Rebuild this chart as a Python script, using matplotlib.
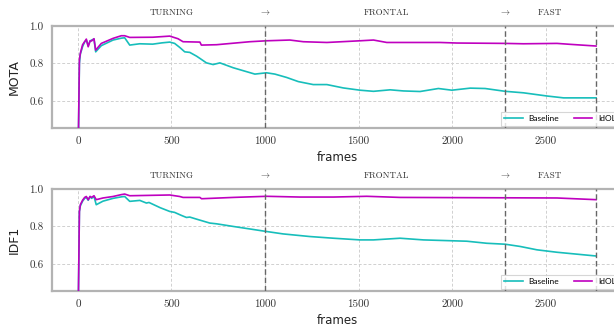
import matplotlib
matplotlib.use("Agg")
import matplotlib.pyplot as plt
import matplotlib.transforms as mtransforms

plt.rcParams['mathtext.fontset'] = 'cm'

# ---------------- data ----------------
mota_base_f = [0, 8, 13, 25, 36, 45, 55, 65, 73, 86, 95, 125, 188, 232, 250, 277, 330, 400, 450, 491, 517,
               545, 571, 598, 634, 652, 687, 723, 759, 830, 946, 1008, 1053, 1116, 1178, 1258, 1331, 1419,
               1508, 1580, 1669, 1740, 1829, 1927, 1999, 2097, 2177, 2284, 2382, 2507, 2596, 2770]
mota_base_v = [0.20, 0.80, 0.85, 0.89, 0.915, 0.925, 0.895, 0.92, 0.925, 0.93, 0.862, 0.895, 0.925, 0.935,
               0.937, 0.898, 0.905, 0.903, 0.91, 0.914, 0.907, 0.885, 0.862, 0.859, 0.839, 0.827, 0.803,
               0.794, 0.803, 0.777, 0.743, 0.75, 0.743, 0.725, 0.703, 0.687, 0.687, 0.669, 0.657, 0.651,
               0.659, 0.653, 0.65, 0.666, 0.657, 0.668, 0.666, 0.651, 0.643, 0.626, 0.616, 0.616]

mota_idol_f = [0, 8, 13, 25, 36, 45, 55, 65, 73, 86, 95, 125, 188, 232, 250, 277, 400, 491, 535, 562, 652,
               660, 741, 919, 1008, 1133, 1205, 1331, 1508, 1580, 1651, 1776, 1936, 2026, 2284, 2382,
               2561, 2632, 2770]
mota_idol_v = [0.20, 0.82, 0.854, 0.90, 0.916, 0.93, 0.889, 0.92, 0.92, 0.932, 0.871, 0.907, 0.934, 0.948,
               0.948, 0.939, 0.94, 0.946, 0.932, 0.916, 0.914, 0.898, 0.90, 0.916, 0.921, 0.925, 0.916,
               0.912, 0.921, 0.925, 0.912, 0.912, 0.912, 0.909, 0.907, 0.905, 0.907, 0.902, 0.893]

idf1_base_f = [0, 8, 13, 25, 36, 45, 55, 65, 73, 86, 98, 134, 188, 232, 250, 277, 331, 366, 380, 440, 491,
               517, 553, 580, 598, 634, 705, 741, 830, 1008, 1097, 1240, 1366, 1508, 1580, 1722, 1847,
               2079, 2186, 2284, 2364, 2454, 2561, 2770]
idf1_base_v = [0.20, 0.88, 0.91, 0.935, 0.95, 0.955, 0.94, 0.96, 0.95, 0.96, 0.916, 0.935, 0.95, 0.958,
               0.96, 0.934, 0.939, 0.925, 0.928, 0.90, 0.88, 0.875, 0.859, 0.848, 0.85, 0.839, 0.818,
               0.814, 0.80, 0.773, 0.76, 0.746, 0.737, 0.728, 0.728, 0.737, 0.728, 0.721, 0.71, 0.705,
               0.693, 0.675, 0.662, 0.642]

idf1_idol_f = [0, 8, 13, 25, 36, 45, 55, 65, 73, 86, 98, 134, 188, 232, 250, 277, 491, 544, 562, 652,
               661, 830, 1008, 1187, 1366, 1544, 1722, 2284, 2561, 2770]
idf1_idol_v = [0.20, 0.88, 0.916, 0.94, 0.955, 0.96, 0.943, 0.96, 0.955, 0.964, 0.943, 0.952, 0.96, 0.97,
               0.973, 0.964, 0.968, 0.96, 0.955, 0.955, 0.948, 0.955, 0.961, 0.957, 0.957, 0.961, 0.955,
               0.953, 0.952, 0.943]

phase_labels = ["TURNING", r"$\rightarrow$", "FRONTAL", r"$\rightarrow$", "FAST"]
phase_pos = [500, 1000, 1648, 2284, 2525]
boundaries = [1000, 2284, 2770]

x_ticks = [0, 500, 1000, 1500, 2000, 2500]
y_ticks = [0.6, 0.8, 1.0]
y_ticklabels = ["0.6", "0.8", "1.0"]

panels = [
    ("MOTA", mota_base_f, mota_base_v, mota_idol_f, mota_idol_v),
    ("IDF1", idf1_base_f, idf1_base_v, idf1_idol_f, idf1_idol_v),
]

# ---------------- figure ----------------
W, H = 614, 329
fig = plt.figure(figsize=(W / 100, H / 100), dpi=100)

ax_left = 52 / W
ax_w = (622 - 52) / W
ax_h = 102 / H
tops = [26, 189]

serif = ['cmr10', 'DejaVu Serif']
spine_col = '#b3b3b3'

for (name, bf, bv, idf, idv), top in zip(panels, tops):
    ax = fig.add_axes([ax_left, 1 - (top + 102) / H, ax_w, ax_h])
    ax.plot(bf, bv, color='#17bebb', lw=1.2, label='Baseline', zorder=3)
    ax.plot(idf, idv, color='#bf00bf', lw=1.2, label='IdOL', zorder=3)
    for b in boundaries:
        ax.axvline(b, color='#666666', lw=1.0, ls=(0, (4, 2)), zorder=4)
    ax.set_xlim(-138.5, 2908.5)
    ax.set_ylim(0.455, 1.0)
    ax.set_xticks(x_ticks)
    ax.set_xticklabels([str(t) for t in x_ticks], fontfamily=serif, fontsize=8, color='#333333')
    ax.set_yticks(y_ticks)
    ax.set_yticklabels(y_ticklabels, fontfamily=serif, fontsize=8, color='#333333')
    ax.tick_params(length=0, pad=6)
    ax.grid(True, color='#d0d0d0', ls=(0, (3, 2)), lw=0.7)
    for s in ax.spines.values():
        s.set_color(spine_col)
        s.set_linewidth(1.6)
    ax.set_ylabel(name, fontfamily='DejaVu Sans', fontsize=9, color='#222222', labelpad=6)
    ax.set_xlabel('frames', fontfamily='DejaVu Sans', fontsize=8.5, color='#222222', labelpad=4)
    trans = mtransforms.blended_transform_factory(ax.transData, ax.transAxes)
    for lab, p in zip(phase_labels, phase_pos):
        ax.text(p, 1.13, lab, transform=trans, ha='center', va='center',
                fontfamily=serif, fontsize=6.5, color='#333333')
    leg = ax.legend(loc='lower right', ncol=2, prop={'family': 'Lato', 'size': 6},
                    handlelength=2.2, columnspacing=1.8, handletextpad=0.7,
                    frameon=True, fancybox=False, borderaxespad=0.3)
    leg.get_frame().set_edgecolor('#cccccc')
    leg.get_frame().set_linewidth(0.8)

fig.savefig('out.png', dpi=100)
